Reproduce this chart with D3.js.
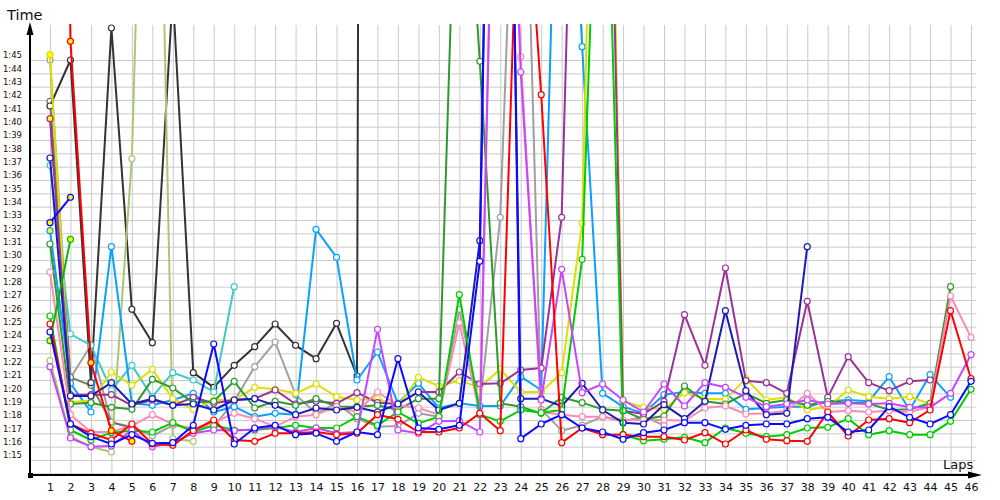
<!DOCTYPE html>
<html>
<head>
<meta charset="utf-8">
<script src="https://cdn.jsdelivr.net/npm/d3@7"></script>
<style>
body{margin:0;background:#fff;}
text{font-family:"DejaVu Sans",Verdana,sans-serif;}
</style>
</head>
<body>
<svg id="chart" width="1000" height="500"></svg>
<script>
// lap numbers on the x axis
var laps=[1,2,3,4,5,6,7,8,9,10,11,12,13,14,15,16,17,18,19,20,21,22,23,24,25,26,27,28,29,30,31,32,33,34,35,36,37,38,39,40,41,42,43,44,45,46];
// labelled times in seconds (1:15 .. 1:45)
var timeTicks=[75,76,77,78,79,80,81,82,83,84,85,86,87,88,89,90,91,92,93,94,95,96,97,98,99,100,101,102,103,104,105];
var gridTimes=[74,75,76,77,78,79,80,81,82,83,84,85,86,87,88,89,90,91,92,93,94,95,96,97,98,99,100,101,102,103,104,105];

// lap times in seconds, one value per lap (null = no lap)
var red=[85.2,77.7,77.0,76.5,77.7,76.2,76.1,77.2,78.0,76.5,76.4,77.0,77.0,77.1,76.9,77.0,78.4,78.05,77.1,77.1,77.4,78.5,77.2,124.9,102.4,76.3,77.4,76.9,76.9,76.75,76.75,76.5,77.05,76.2,77.25,76.55,76.45,76.4,78.6,76.8,78.0,78.1,77.8,78.75,86.2,81.1];
var red2=[200,106.4,82.3,77.2,76.4];
var blue=[84.6,77.7,76.75,76.2,76.9,76.25,76.3,77.6,83.7,76.2,77.4,77.6,76.9,77.0,76.4,77.1,76.9,82.6,77.4,77.3,77.6,89.9,180,76.6,77.7,78.4,77.4,77.1,76.55,77.05,77.25,77.8,77.8,77.3,77.6,77.7,77.7,78.1,78.2,77.1,77.25,79.0,78.2,77.7,78.4,80.9];
var darkblue=[97.65,79.8,79.8,80.8,79.2,79.6,79.1,79.2,78.75,79.5,79.6,79.1,78.4,78.9,78.75,78.95,78.6,79.2,80.1,78.75,79.25,91.45,175,79.6,79.6,79.05,80.75,78.75,77.8,77.7,79.15,78.1,79.4,86.2,80.2,78.4,78.5,91.0];
var blue3=[92.8,94.7];
var lightblue=[92.2,80.75,78.6,91.0,79.25,79.1,79.5,80.0,78.6,79.0,78.25,78.5,78.4,92.3,90.2,81.0,83.1,79.25,80.75,78.9,79.25,79.05,79.05,81.25,80.25,136.7,106.0,80.0,79.0,78.5,79.9,80.1,80.0,80.0,78.8,78.9,79.0,79.0,79.4,79.5,79.4,81.25,78.75,81.4,79.7];
var cyan=[97.1,84.45,83.6,80.25,82.1,79.75,81.55,81.0,80.1,88.0];
var green=[85.8,77.25,76.5,77.05,77.2,77.1,77.8,77.1,77.6,77.25,77.25,77.4,77.6,77.4,77.4,78.25,77.6,78.6,77.75,78.25,87.4,78.4,77.9,78.75,78.55,78.75,90.05,134,76.9,76.45,76.55,76.7,76.3,77.4,77.0,76.75,76.9,77.4,77.45,78.1,76.9,77.2,76.9,76.9,77.9,80.3];
var darkgreen=[91.2,79.2,79.3,78.95,78.8,81.05,80.4,79.3,79.4,80.9,78.9,79.4,79.1,79.6,79.0,79.0,79.1,78.75,79.6,79.6,128.8,104.9,79.25,79.0,78.5,79.7,79.3,78.8,78.7,78.05,78.3,80.55,79.4,79.2,80.0,79.25,79.5,79.1,79.4,79.3,79.25,78.75,78.8,79.25,88.0];
var green2=[83.95,91.55];
var yellow=[105.4,79.35,79.45,81.6,80.6,81.8,79.6,78.8,79.5,79.5,80.45,80.3,80.0,80.7,79.75,79.5,79.6,79.05,81.2,80.55,80.95,80.45,81.8,80.1,80.1,81.55,92.75,157,79.4,78.95,78.8,80.05,79.6,79.55,81.1,79.5,79.7,78.75,79.0,80.25,79.75,79.6,79.75,79.2];
var pink=[89.1,78.4,77.1,77.1,77.55,78.4,77.7,77.3,77.8,78.5,78.1,77.5,78.25,78.4,79.0,78.6,80.1,79.1,78.9,78.4,85.3,78.5,144,105.25,78.6,78.4,78.25,78.25,78.0,78.0,78.0,77.95,78.9,79.05,78.45,78.5,78.7,80.0,78.6,78.7,78.6,78.7,78.6,79.0,87.3,84.2];
var violet=[82.0,76.65,76.0,76.05,77.25,76.0,76.3,77.0,77.25,77.2,77.3,77.5,77.1,77.4,77.0,77.1,84.8,77.25,77.0,77.9,77.95,77.1,145,104.1,79.5,89.3,80.05,80.7,79.5,78.6,80.7,79.05,80.8,80.45,79.7,79.0,79.2,79.5,79.2,79.25,79.2,79.25,78.95,78.95,80.0,82.9];
var purple=[100.6,79.9,79.9,79.9,79.1,79.5,79.1,79.7,79.25,79.5,79.6,80.25,79.2,79.4,79.25,80.05,79.3,79.2,80.1,80.1,81.6,80.7,80.75,81.75,81.9,93.2,150,150,78.7,78.45,79.4,85.9,82.1,89.4,80.95,80.8,80.0,86.9,79.7,82.75,80.8,80.2,80.9,81.0];
var gray=[105.0,81.15,83.6,77.8,77.5,76.8,77.6,77.4,77.5,79.4,82.0,83.85,79.9,78.5,79.25,78.1,77.5,77.55,78.5,78.25,86.3,79.0,93.2,135,78.8,77.2,77.6,78.25,77.9,78.25,77.6];
var black=[101.55,105.0,80.8,107.4,86.3,83.8,110,81.55,80.45,82.1,83.5,85.2,83.6,82.6,85.25,81.3,600];
var olive=[101.9,81.2,80.6,77.85,77.4];
var yellowgreen=[82.45,76.75,76.0,75.6,97.6,152,76.6,76.4];

// laps drawn with a yellow-filled marker
var red2Yellow=[2,3,4,5];
var blue3Yellow=[1,2];
var green2Yellow=[1,2];
var lightblueYellow=[1];
var yellowYellow=[1,2];
var purpleYellow=[1];

var series=[
  {values:gray,color:'#a0a0a0',yl:[]},
  {values:olive,color:'#7a7656',yl:[]},
  {values:black,color:'#333333',yl:[]},
  {values:yellowgreen,color:'#a9c873',yl:[]},
  {values:cyan,color:'#3fc9cc',yl:[]},
  {values:lightblue,color:'#0aa0ff',yl:lightblueYellow},
  {values:yellow,color:'#dede00',yl:yellowYellow},
  {values:purple,color:'#993399',yl:purpleYellow},
  {values:darkgreen,color:'#2e9a2e',yl:[]},
  {values:pink,color:'#ff88b4',yl:[]},
  {values:darkblue,color:'#1c1cb4',yl:[]},
  {values:green,color:'#00cc00',yl:[]},
  {values:green2,color:'#00bb00',yl:green2Yellow},
  {values:violet,color:'#c845ff',yl:[]},
  {values:red,color:'#ff0000',yl:[]},
  {values:red2,color:'#ff0000',yl:red2Yellow},
  {values:blue,color:'#0a0aff',yl:[]},
  {values:blue3,color:'#0a0aff',yl:blue3Yellow}
];

var svg=d3.select('#chart');
var x=d3.scaleLinear().domain([1,46]).range([50,971]);
var y=d3.scaleLinear().domain([75,105]).range([460,60]);

function fmt(v){
  var m=Math.floor(v/60), s=Math.round(v-m*60);
  return m+':'+(s<10?'0':'')+s;
}

// grid
svg.append('g')
  .attr('transform','translate(0,475)')
  .call(d3.axisBottom(x).tickValues(laps).tickSize(-450).tickFormat(''))
  .call(g=>g.select('.domain').remove())
  .selectAll('line').attr('stroke','#cacaca');
svg.append('g')
  .attr('transform','translate(30,0)')
  .call(d3.axisLeft(y).tickValues(gridTimes).tickSize(-946).tickFormat(''))
  .call(g=>g.select('.domain').remove())
  .selectAll('line').attr('stroke','#cacaca');

// tick labels
var xa=svg.append('g')
  .attr('transform','translate(0,475)')
  .call(d3.axisBottom(x).tickValues(laps).tickSize(0).tickPadding(8));
xa.select('.domain').remove();
xa.selectAll('text').attr('font-size','11px').attr('font-family','DejaVu Sans').attr('fill','#111');

var ya=svg.append('g')
  .attr('transform','translate(30,0)')
  .call(d3.axisLeft(y).tickValues(timeTicks).tickSize(0).tickPadding(8).tickFormat(fmt));
ya.select('.domain').remove();
ya.selectAll('text').attr('font-size','8.5px').attr('font-family','DejaVu Sans').attr('fill','#2a0a00').attr('dy','-0.25em');

// data
svg.append('clipPath').attr('id','plot')
  .append('rect').attr('x',30).attr('y',24).attr('width',955).attr('height',451);

var line=d3.line().x(d=>x(d.lap)).y(d=>y(d.v));
var plot=svg.append('g').attr('clip-path','url(#plot)');

series.forEach(function(s){
  var pts=[];
  s.values.forEach(function(v,i){
    if(v!=null) pts.push({lap:laps[i],v:v});
  });
  var g=plot.append('g');
  g.append('path').datum(pts)
    .attr('d',line)
    .attr('fill','none')
    .attr('stroke',s.color)
    .attr('stroke-width',2)
    .attr('stroke-linejoin','round');
  g.selectAll('circle').data(pts).join('circle')
    .attr('cx',d=>x(d.lap))
    .attr('cy',d=>y(d.v))
    .attr('r',3)
    .attr('fill',d=>s.yl.indexOf(d.lap)>=0?'#ffff00':'#fff')
    .attr('stroke',s.color)
    .attr('stroke-width',1.2);
});

// axes with arrows
svg.append('line').attr('x1',30).attr('y1',476).attr('x2',30).attr('y2',30)
  .attr('stroke','#000').attr('stroke-width',2);
svg.append('path').attr('d','M30,22 L26.5,35 L33.5,35 Z').attr('fill','#000');
svg.append('line').attr('x1',29).attr('y1',475).attr('x2',970).attr('y2',475)
  .attr('stroke','#000').attr('stroke-width',2);
svg.append('path').attr('d','M982,475 L968,471.5 L968,478.5 Z').attr('fill','#000');
svg.append('rect').attr('x',28).attr('y',473).attr('width',5).attr('height',5).attr('fill','#000');

svg.append('text').attr('x',7).attr('y',20).attr('font-size','14.5px').attr('fill','#111').text('Time');
svg.append('text').attr('x',943).attr('y',469).attr('font-size','13px').attr('fill','#111').text('Laps');
</script>
</body>
</html>
